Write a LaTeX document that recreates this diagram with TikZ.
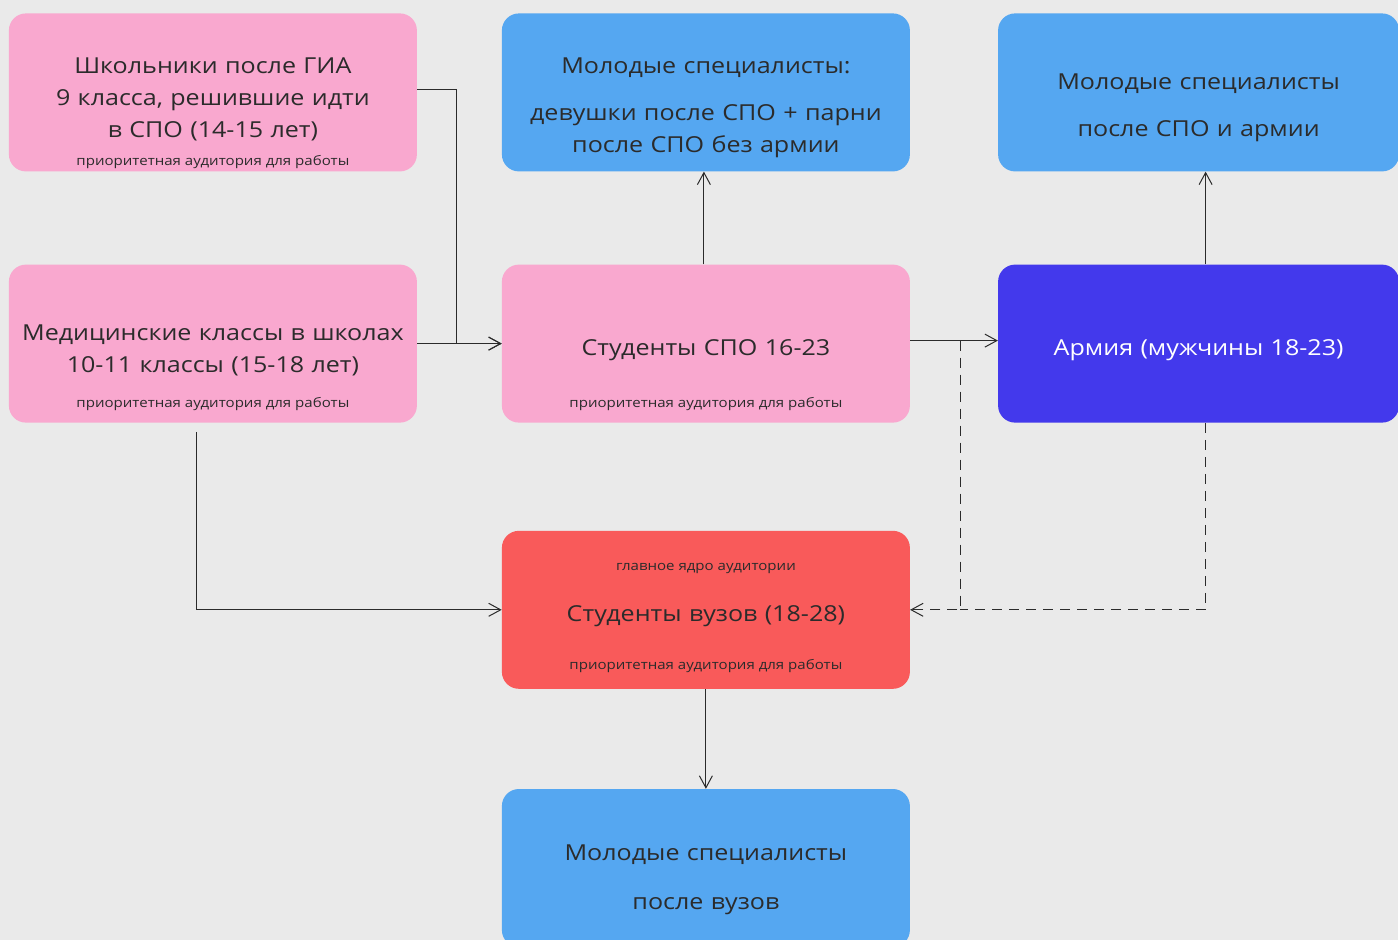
\documentclass[tikz,border=0pt]{standalone}
\usepackage{fontspec}
\setmainfont{Open Sans}[FakeStretch=1.14]
\usetikzlibrary{shapes}
\usetikzlibrary{arrows.meta}
\usetikzlibrary{positioning}
\usetikzlibrary{calc}
\definecolor{bgcol}{HTML}{EAEAEA}
\definecolor{pinkcol}{HTML}{F9A8CF}
\definecolor{bluecol}{HTML}{55A7F1}
\definecolor{armycol}{HTML}{4339EC}
\definecolor{redcol}{HTML}{F95A5A}
\definecolor{ink}{HTML}{2B2B2B}
\newcommand{\pushdown}[1]{\rule{0pt}{#1}}
\begin{document}
\begin{tikzpicture}[x=1pt,y=1pt]
\tikzstyle{box} = [rectangle, rounded corners=17pt, minimum width=408pt,
minimum height=158pt, text width=400pt, align=center, inner sep=0pt,
font=\fontsize{22}{32}\selectfont, text=ink]
\tikzstyle{pinkbox} = [box, fill=pinkcol]
\tikzstyle{bluebox} = [box, fill=bluecol]
\tikzstyle{armybox} = [box, fill=armycol, text=white]
\tikzstyle{redbox} = [box, fill=redcol]
\tikzstyle{narrow} = [minimum width=401pt, text width=394pt]
\tikzstyle{note} = [font=\fontsize{13.2}{16}\selectfont, text=ink, inner sep=0pt]
\tikzstyle{line} = [draw=ink, line width=1pt, -{Straight Barb[length=12pt,width=13pt]}]
\tikzstyle{dash line} = [draw=ink, line width=1pt, dash pattern=on 10pt off 7pt]
\fill[bgcol] (0,0) rectangle (1398,-940);
\useasboundingbox (0,0) rectangle (1398,-940);
\matrix [column sep=85pt, row sep=93pt, inner sep=0pt, anchor=north west] at (8.5,-13)
{
% row 1
\node [pinkbox] (school) {\pushdown{29pt}Школьники после ГИА\\9 класса, решившие идти\\в СПО (14-15 лет)}; &
\node [bluebox] (spec1) {\pushdown{46pt}Молодые специалисты:\\[15pt]девушки после СПО + парни\\после СПО без армии}; &[3pt]
\node [bluebox, narrow] (spec2) {\pushdown{46pt}Молодые специалисты\\[15pt]после СПО и армии}; \\
% row 2
\node [pinkbox] (med) {\pushdown{29pt}Медицинские классы в школах\\10-11 классы (15-18 лет)}; &
\node [pinkbox] (spo) {\pushdown{29pt}Студенты СПО 16-23}; &
\node [armybox, narrow] (army) {\pushdown{29pt}Армия (мужчины 18-23)}; \\[15pt]
% row 3
& \node [redbox] (vuz) {\pushdown{29pt}Студенты вузов (18-28)}; & \\[7pt]
% row 4
& \node [bluebox] (spec3) {\pushdown{40pt}Молодые специалисты\\[17pt]после вузов}; & \\
};
% notes
\node [note, above=3pt of school.south] (school-note) {приоритетная аудитория для работы};
\node [note, above=12pt of med.south] (med-note) {приоритетная аудитория для работы};
\node [note, above=12pt of spo.south] (spo-note) {приоритетная аудитория для работы};
\node [note, below=32pt of vuz.north] (vuz-core) {главное ядро аудитории};
\node [note, above=16pt of vuz.south] (vuz-note) {приоритетная аудитория для работы};
\coordinate (split) at ($([yshift=3pt]spo.east)!0.57!([yshift=3pt]army.west)$);
\coordinate (med-out) at ([xshift=-16pt,yshift=-9pt]med.south);
\draw[line] ([yshift=3pt]school.east) -| ($(school.east)!0.47!(spo.west)$) |- (spo.west);
\draw[line] (med.east) -- (spo.west);
\draw[line] (med-out) |- (vuz.west);
\draw[line] ([xshift=-2pt]spo.north) -- ([xshift=-2pt]spec1.south);
\draw[line] ([yshift=3pt]spo.east) -- ([yshift=3pt]army.west);
\draw[line, dash line] (split) |- (vuz.east);
\draw[dash line] ([xshift=7pt]army.south) |- (split |- vuz.east);
\draw[line] ([xshift=7pt]army.north) -- ([xshift=7pt]spec2.south);
\draw[line] (vuz.south) -- (spec3.north);
\end{tikzpicture}
\end{document}
